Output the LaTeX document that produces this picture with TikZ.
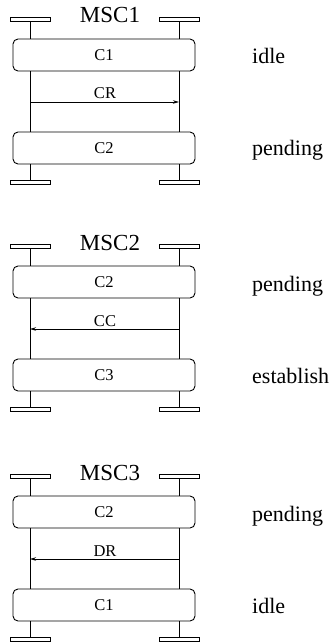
\documentclass[tikz,border=0pt]{standalone}
\usepackage{fontspec}
\setmainfont{Liberation Serif}
\usetikzlibrary{arrows.meta}
\tikzset{
  ln/.style={line width=0.8pt},
  bar/.style={draw, ln, minimum width=40pt, minimum height=4pt, inner sep=0pt},
  cbox/.style={draw, line width=0.9pt, rounded corners=5pt, minimum width=182pt, minimum height=32pt, inner sep=0pt, font=\fontsize{16.5}{18}\selectfont},
  title/.style={anchor=base, inner sep=0pt, font=\fontsize{23}{26}\selectfont},
  state/.style={anchor=base west, inner sep=0pt, font=\fontsize{22}{26}\selectfont},
  msglabel/.style={anchor=base, inner sep=0pt, font=\fontsize{16.5}{18}\selectfont},
  msg/.style={ln, -{Stealth[length=6pt,width=3.5pt]}},
}
\newcommand\mscblock[9]{%
  \begin{scope}[yshift=-#2pt]
    \node[bar] (#1tl) at (30,19) {};
    \node[bar] (#1tr) at (179,19) {};
    \node[title] (#1t) at (110,23) {#3};
    \node[cbox] (#1a) at (104,55) {\raisebox{-2.5pt}{#4}};
    \node[cbox] (#1b) at (104,148) {\raisebox{-2.5pt}{#5}};
    \node[bar] (#1bl) at (30,182) {};
    \node[bar] (#1br) at (179,182) {};
    \draw[ln] (#1tl.south) -- (#1tl.south |- #1a.north);
    \draw[ln] (#1tr.south) -- (#1tr.south |- #1a.north);
    \draw[ln] (#1tl.south |- #1a.south) -- (#1tl.south |- #1b.north);
    \draw[ln] (#1tr.south |- #1a.south) -- (#1tr.south |- #1b.north);
    \draw[ln] (#1bl.north) -- (#1bl.north |- #1b.south);
    \draw[ln] (#1br.north) -- (#1br.north |- #1b.south);
    \coordinate (#1ml) at (30,102);
    \coordinate (#1mr) at (179,102);
    \ifnum#7=0
      \draw[msg] (#1ml) -- (#1mr);
    \else
      \draw[msg] (#1mr) -- (#1ml);
    \fi
    \node[msglabel] (#1m) at (105,99) {#6};
    \node[state] (#1s) at (252,64) {#8};
    \node[state] (#1u) at (252,156) {#9};
  \end{scope}%
}
\begin{document}
\begin{tikzpicture}[x=1pt,y=-1pt]
  \useasboundingbox (0,0) rectangle (330,644);
  \mscblock{p}{0}{MSC1}{C1}{C2}{CR}{0}{idle}{pending}
  \mscblock{q}{227}{MSC2}{C2}{C3}{CC}{1}{pending}{establish}
  \mscblock{r}{457}{MSC3}{C2}{C1}{DR}{1}{pending}{idle}
\end{tikzpicture}
\end{document}
